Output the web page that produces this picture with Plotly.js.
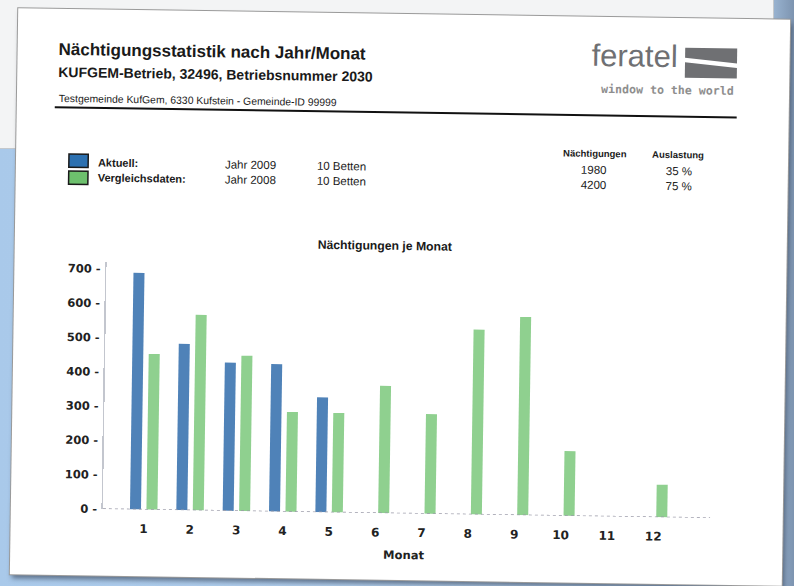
<!DOCTYPE html>
<html><head><meta charset="utf-8">
<script src="https://cdn.plot.ly/plotly-3.0.1.min.js"></script>
<style>
html,body{margin:0;padding:0;width:794px;height:586px;overflow:hidden;}
body{position:relative;background:linear-gradient(90deg,#a9c9ea 0%,#b5d1ee 60%,#a8c4e2 96%,#7d94b0 100%);}
#win{position:absolute;left:0;top:0;width:773px;height:148px;background:#f3f4f5;border-right:1px solid #c4c8cc;border-bottom:1px solid #c4c8cc;}
#sheet{position:absolute;left:14px;top:14px;width:772px;height:566px;background:#fff;transform:rotate(0.85deg);box-shadow:0 0 0 1px #9a9a9a, 2px 4px 5px rgba(30,40,60,0.55);}
#chart{position:absolute;left:0;top:0;width:772px;height:566px;}
</style></head>
<body>
<div id="win"></div>
<div id="sheet"><div id="chart"></div></div>
<script>
// ---- data ----
const months = [1,2,3,4,5,6,7,8,9,10,11,12];
const monthLabels = ['1','2','3','4','5','6','7','8','9','10','11','12'];
const aktuell2009 = [690, 485, 432, 430, 335, 0, 0, 0, 0, 0, 0, 0];
const vergleich2008 = [454, 570, 453, 291, 290, 371, 291, 539, 578, 189, 0, 95];
const yTicks = [0,100,200,300,400,500,600,700];
const yTickLabels = ['0 -','100 -','200 -','300 -','400 -','500 -','600 -','700 -'];
const seriesNames = ['Aktuell:', 'Vergleichsdaten:'];
const seriesYears = ['Jahr 2009', 'Jahr 2008'];
const seriesBeds = ['10 Betten', '10 Betten'];
const sumNaechtigungen = ['1980', '4200'];
const sumAuslastung = ['35 %', '75 %'];

// ---- layout helpers (sheet pixel -> paper) ----
const W = 772, H = 566;
const X = u => u / W, Y = v => 1 - v / H;
const BLUE = '#4f82b8', GREEN = '#8fd08f';
const TXT = '#1a1a1a';
const SANS = 'Liberation Sans, Arial, sans-serif';
const DJ = 'DejaVu Sans, Verdana, sans-serif';
function A(text, u, v, o) {
  return Object.assign({xref:'paper', yref:'paper', x:X(u), y:Y(v), text:text, showarrow:false,
    xanchor:'left', yanchor:'middle', borderpad:0,
    font:{family:SANS, size:11, color:TXT}}, o || {});
}
function F(size, weight, family, color) { return {family: family || SANS, size: size, weight: weight || 'normal', color: color || TXT}; }

const rowV = [152.5, 167.7];
const annotations = [
  A('Nächtigungsstatistik nach Jahr/Monat', 40, 40, {font:F(17,'bold')}),
  A('KUFGEM-Betrieb, 32496, Betriebsnummer 2030', 40, 63, {font:F(14,'bold')}),
  A('Testgemeinde KufGem, 6330 Kufstein - Gemeinde-ID 99999', 40.5, 89.6, {font:F(10.4)}),
  A('feratel', 617.4, 38, {xanchor:'center', font:F(31,'normal',SANS,'#6f7073')}),
  A('window to the world', 650, 72, {xanchor:'center', font:F(11.6,'bold','DejaVu Sans Mono, monospace','#8e8e8e')}),
  A('Nächtigungen', 578.5, 136.7, {xanchor:'center', font:F(9.5,'bold')}),
  A('Auslastung', 661.7, 136.7, {xanchor:'center', font:F(9.5,'bold')}),
  A('Nächtigungen je Monat', 370.3, 232.2, {xanchor:'center', font:F(12.2,'bold')}),
  A('Monat', 393.8, 541, {xanchor:'center', font:F(11.5,'bold',DJ,'#222')})
];
for (let i = 0; i < 2; i++) {
  annotations.push(A(seriesNames[i], 80.5, rowV[i], {font:F(11,'bold')}));
  annotations.push(A(seriesYears[i], 208, rowV[i], {font:F(11.5)}));
  annotations.push(A(seriesBeds[i], 300, rowV[i], {font:F(11.5)}));
  annotations.push(A(sumNaechtigungen[i], 578, rowV[i], {xanchor:'center', font:F(11.5)}));
  annotations.push(A(sumAuslastung[i], 663.4, rowV[i], {xanchor:'center', font:F(11.5)}));
}

function rect(u0, v0, u1, v1, fill, line, lw) {
  return {type:'rect', xref:'paper', yref:'paper', x0:X(u0), x1:X(u1), y0:Y(v1), y1:Y(v0),
    fillcolor:fill, line:{color:line || fill, width: lw || 0}};
}
function poly(pts, fill) {
  return {type:'path', xref:'paper', yref:'paper',
    path: 'M' + pts.map(p => X(p[0]).toFixed(5) + ',' + Y(p[1]).toFixed(5)).join('L') + 'Z',
    fillcolor:fill, line:{width:0}};
}
const L = 667.5, R = 719.5, T = 29.5, B = 59.5;
const xd = [92.1 / W, 699.3 / W];
const shapes = [
  {type:'line', xref:'paper', yref:'paper', x0:X(38), x1:X(720), y0:Y(98.4), y1:Y(98.4), line:{color:'#111', width:2}},
  poly([[L,T],[R,T],[R,T+15],[L,T+10]], '#6f7073'),
  poly([[L,T+14.5],[R,T+19.5],[R,B],[L,B]], '#6f7073'),
  rect(52.9, 144.9, 72.2, 158.2, '#2c70b0', '#1a1a1a', 1.5),
  rect(52.9, 161.9, 72.2, 175.2, '#6dc06d', '#1a1a1a', 1.5),
  {type:'line', xref:'paper', yref:'y', x0:xd[0], x1:xd[1], y0:0, y1:0, line:{color:'#9a9aa8', width:1.5, dash:'dot'}}
];

const traces = [
  {type:'bar', x:months, y:aktuell2009, name:'Aktuell', marker:{color:BLUE}},
  {type:'bar', x:months, y:vergleich2008, name:'Vergleichsdaten', marker:{color:GREEN}}
];

const layout = {
  width:W, height:H, autosize:false,
  margin:{l:0, r:0, t:0, b:0, pad:0},
  paper_bgcolor:'rgba(0,0,0,0)', plot_bgcolor:'rgba(0,0,0,0)',
  showlegend:false,
  barmode:'group', bargap:0.29, bargroupgap:0.33,
  xaxis:{domain:xd, range:[0.12, 13.22], tickmode:'array', tickvals:months, ticktext:monthLabels,
    showgrid:false, zeroline:false, showline:false, ticks:'outside', ticklen:8, tickcolor:'rgba(0,0,0,0)',
    tickfont:{family:DJ, size:12, color:'#222', weight:'bold'}},
  yaxis:{domain:[(H - 499.4) / H, (H - 252.4) / H], range:[0, 720], tickmode:'array', tickvals:yTicks,
    ticktext:yTickLabels, showgrid:false, zeroline:false, showline:true, linecolor:'#c3c6ce', linewidth:1.5,
    ticks:'outside', ticklen:2, tickcolor:'rgba(0,0,0,0)',
    tickfont:{family:DJ, size:11.5, color:'#222', weight:'bold'}},
  annotations:annotations,
  shapes:shapes
};
Plotly.newPlot('chart', traces, layout, {displayModeBar:false, staticPlot:true});
</script>
</body></html>
